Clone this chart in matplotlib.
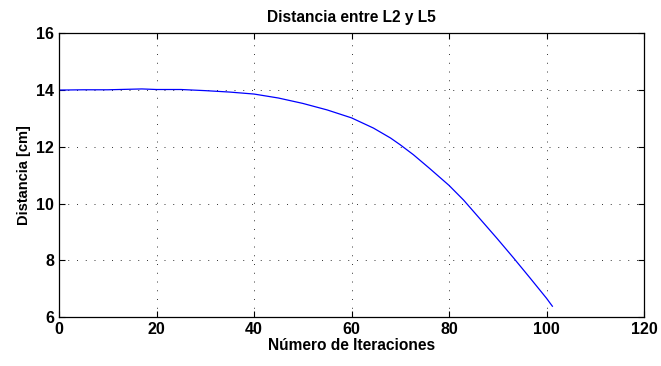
import matplotlib

matplotlib.use("Agg")
import matplotlib.pyplot as plt

# iteration number vs distance between L2 and L5 (cm)
iteraciones = [0, 5, 10, 17, 20, 25, 30, 35, 40, 45, 50, 55, 60, 64.5, 68,
               70, 72.7, 76, 80, 83, 86.4, 89.8, 93.2, 96.6, 100, 101.2]
distancia = [14.00, 14.01, 14.01, 14.04, 14.02, 14.02, 13.98, 13.93, 13.86, 13.72,
             13.53, 13.30, 13.02, 12.66, 12.31, 12.07, 11.72, 11.24, 10.64, 10.12,
             9.45, 8.78, 8.09, 7.38, 6.66, 6.38]

plt.rcParams["font.family"] = ["Liberation Sans", "DejaVu Sans"]
plt.rcParams["font.weight"] = "bold"

fig = plt.figure(figsize=(6.61, 3.66), dpi=100)
ax = fig.add_axes([0.0893, 0.1339, 0.885, 0.775])

ax.plot(iteraciones, distancia, color="#0000ff", lw=0.9)

ax.set_xlim(0, 120)
ax.set_ylim(6, 16)
ax.set_xticks(range(0, 121, 20))
ax.set_yticks(range(6, 17, 2))
# MATLAB-style sparse dotted grid
ax.grid(True, color="#333333", ls=(0, (1, 8)), lw=0.7)
ax.tick_params(direction="in", top=True, right=True, length=4, width=0.8,
               labelsize=11.5, pad=3.5)
for lbl in ax.get_xticklabels() + ax.get_yticklabels():
    lbl.set_fontweight("bold")
for s in ax.spines.values():
    s.set_linewidth(0.9)

ax.set_title("Distancia entre L2 y L5", fontsize=11.2, fontweight="bold", pad=8)
ax.set_xlabel("Número de Iteraciones", fontsize=11.2, fontweight="bold", labelpad=1)
ax.set_ylabel("Distancia [cm]", fontsize=10.5, fontweight="bold", labelpad=4)

fig.savefig("out.png", dpi=100)
